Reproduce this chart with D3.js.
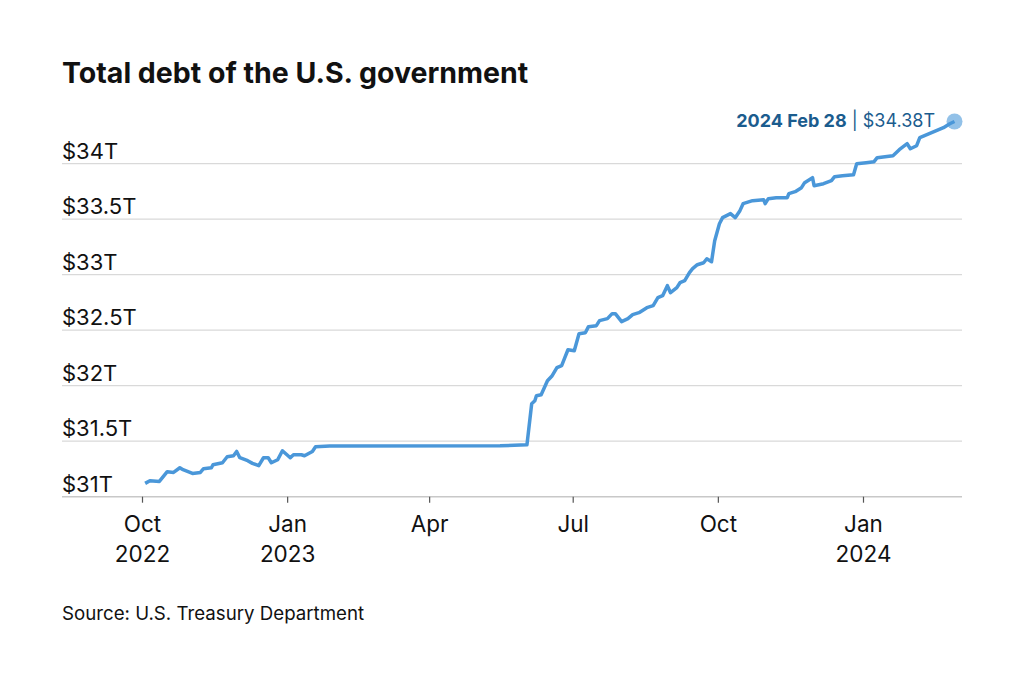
<!DOCTYPE html>
<html>
<head>
<meta charset="utf-8">
<script src="https://cdn.jsdelivr.net/npm/d3@7"></script>
<style>
	body { margin: 0; background: #fff; }
	svg text { font-family: Inter, Roboto, "Liberation Sans", sans-serif; }
</style>
</head>
<body>
<div id="chart"></div>
<script>
	'use strict'
	// values (trillions of dollars)
	var debtDates = ["2022-10-03","2022-10-06","2022-10-12","2022-10-17","2022-10-21","2022-10-25","2022-10-27",
		"2022-11-02","2022-11-07","2022-11-09","2022-11-14","2022-11-15","2022-11-21","2022-11-24","2022-11-28","2022-11-30",
		"2022-12-02","2022-12-07","2022-12-10","2022-12-14","2022-12-17","2022-12-20","2022-12-22","2022-12-26","2022-12-29",
		"2023-01-03","2023-01-05","2023-01-10","2023-01-12","2023-01-17","2023-01-19","2023-01-28","2023-05-16",
		"2023-06-02","2023-06-05","2023-06-07","2023-06-08","2023-06-11","2023-06-13","2023-06-15","2023-06-18","2023-06-21",
		"2023-06-24","2023-06-26","2023-06-28","2023-07-02","2023-07-05","2023-07-09","2023-07-11","2023-07-16","2023-07-18",
		"2023-07-23","2023-07-26","2023-07-28","2023-08-01","2023-08-05","2023-08-08","2023-08-12","2023-08-17","2023-08-21",
		"2023-08-24","2023-08-27","2023-08-30","2023-09-01","2023-09-05","2023-09-07","2023-09-10","2023-09-13","2023-09-15",
		"2023-09-18","2023-09-22","2023-09-24","2023-09-27","2023-09-29","2023-10-02","2023-10-04","2023-10-09","2023-10-12",
		"2023-10-15","2023-10-17","2023-10-23","2023-10-30","2023-10-31","2023-11-02","2023-11-07","2023-11-14","2023-11-15",
		"2023-11-19","2023-11-23","2023-11-25","2023-11-30","2023-12-01","2023-12-07","2023-12-12","2023-12-14","2023-12-19",
		"2023-12-26","2023-12-28","2024-01-03","2024-01-08","2024-01-10","2024-01-20","2024-01-24","2024-01-29","2024-01-31",
		"2024-02-04","2024-02-06","2024-02-12","2024-02-21","2024-02-25","2024-02-28"];
	var debtValues = [31.12,31.144,31.138,31.225,31.219,31.261,31.243,
		31.21,31.219,31.252,31.261,31.288,31.306,31.36,31.369,31.408,
		31.351,31.324,31.3,31.279,31.351,31.351,31.306,31.333,31.414,
		31.351,31.378,31.378,31.369,31.408,31.45,31.457,31.459,
		31.468,31.838,31.865,31.91,31.919,31.982,32.045,32.09,32.162,
		32.18,32.252,32.324,32.315,32.468,32.477,32.532,32.541,32.586,
		32.604,32.649,32.649,32.577,32.604,32.64,32.658,32.703,32.721,
		32.793,32.811,32.901,32.838,32.883,32.928,32.946,33.018,33.054,
		33.09,33.108,33.144,33.117,33.306,33.459,33.514,33.55,33.514,
		33.577,33.64,33.667,33.676,33.64,33.685,33.694,33.694,33.73,
		33.748,33.784,33.829,33.874,33.802,33.82,33.847,33.883,33.892,
		33.901,34.0,34.009,34.018,34.054,34.072,34.126,34.18,34.135,
		34.162,34.234,34.27,34.324,34.36,34.38];
	var yTicks = [31, 31.5, 32, 32.5, 33, 33.5, 34];
	var xTicks = ["2022-10-01","2023-01-01","2023-04-01","2023-07-01","2023-10-01","2024-01-01"];
	var xTickLabels = [["Oct","2022"],["Jan","2023"],["Apr",""],["Jul",""],["Oct",""],["Jan","2024"]];
	var titleText = "Total debt of the U.S. government";
	var sourceText = "Source: U.S. Treasury Department";
	var lastLabel = {date: "2024 Feb 28", value: "$34.38T"};

	var W = 1024, H = 683;
	var parse = d3.timeParse("%Y-%m-%d");
	var data = debtDates.map(function(d, i){ return {date: parse(d), value: debtValues[i]}; });

	var svg = d3.select("#chart").append("svg")
				.attr("width", W)
				.attr("height", H);

	var left = 62, right = 962;
	var x = d3.scaleTime()
			.domain([parse("2022-10-01"), parse("2024-02-28")])
			.range([142, 954.5]);
	var y = d3.scaleLinear()
			.domain([31, 34])
			.range([496.7, 163.7]);

	svg.append("text")
		.attr("x", left)
		.attr("y", 83)
		.attr("font-size", 28.5)
		.attr("font-weight", 700)
		.attr("fill", "#111")
		.text(titleText);

	// gridlines + y labels
	var grid = svg.append("g");
	yTicks.forEach(function(t){
		grid.append("line")
			.attr("x1", left).attr("x2", right)
			.attr("y1", y(t)).attr("y2", y(t))
			.attr("stroke", t === 31 ? "#c8c8c8" : "#d9d9d9")
			.attr("stroke-width", t === 31 ? 1.5 : 1.2);
		grid.append("text")
			.attr("x", left)
			.attr("y", y(t) - 5)
			.attr("font-size", 22)
			.attr("fill", "#111")
			.text("$" + t + "T");
	});

	// x axis ticks
	var xAxis = d3.axisBottom(x)
				.tickValues(xTicks.map(parse))
				.tickSize(6)
				.tickFormat("");
	var ax = svg.append("g")
				.attr("transform", "translate(0," + y(31) + ")")
				.call(xAxis);
	ax.select(".domain").remove();
	ax.selectAll(".tick line").attr("stroke", "#555").attr("stroke-width", 1.2);
	ax.selectAll(".tick").each(function(d, i){
		var g = d3.select(this);
		xTickLabels[i].forEach(function(s, j){
			if(!s) return;
			g.append("text")
				.attr("y", 35 + j * 30)
				.attr("text-anchor", "middle")
				.attr("font-size", 22.5)
				.attr("fill", "#111")
				.text(s);
		});
	});

	var line = d3.line()
				.x(function(d){ return x(d.date); })
				.y(function(d){ return y(d.value); })
				.curve(d3.curveLinear);

	svg.append("path")
		.datum(data)
		.attr("d", line)
		.attr("fill", "none")
		.attr("stroke", "#4a97d9")
		.attr("stroke-width", 3.5)
		.attr("stroke-linejoin", "round");

	var last = data[data.length - 1];
	svg.append("circle")
		.attr("cx", x(last.date))
		.attr("cy", y(last.value))
		.attr("r", 8)
		.attr("fill", "#4a97d9")
		.attr("opacity", 0.6);

	var ann = svg.append("text")
				.attr("x", 935)
				.attr("y", 127)
				.attr("text-anchor", "end")
				.attr("font-size", 18)
				.attr("fill", "#1b5c8e");
	ann.append("tspan").attr("font-weight", 700).text(lastLabel.date);
	ann.append("tspan").attr("font-weight", 400).text(" | " + lastLabel.value);

	svg.append("text")
		.attr("x", left)
		.attr("y", 620)
		.attr("font-size", 18.7)
		.attr("fill", "#111")
		.text(sourceText);
</script>
</body>
</html>
